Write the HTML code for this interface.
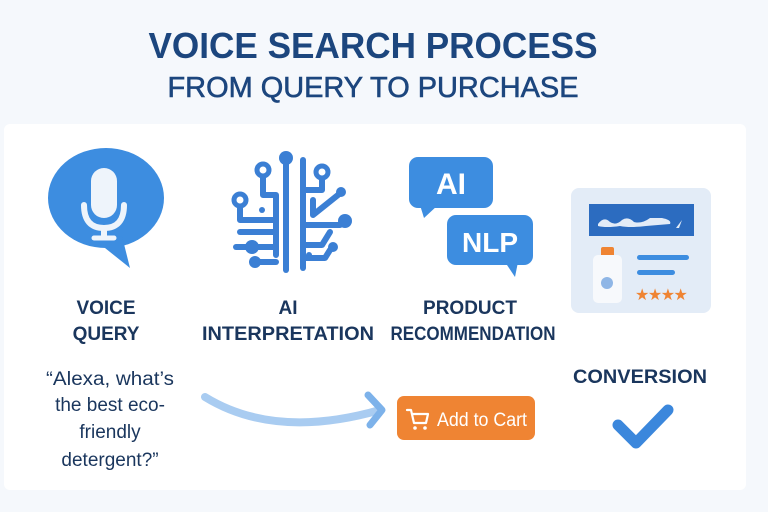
<!DOCTYPE html>
<html><head><meta charset="utf-8"><style>
html,body{margin:0;padding:0;background:#f5f8fc;}
svg{display:block;}
text{font-family:"Liberation Sans",sans-serif;}
</style></head><body>
<svg width="768" height="512" viewBox="0 0 768 512" xmlns="http://www.w3.org/2000/svg">
<rect width="768" height="512" fill="#f5f8fc"/>
<rect x="4" y="124" width="742" height="366" rx="6" fill="#ffffff"/>
<text x="373" y="58" text-anchor="middle" font-size="36" font-weight="bold" fill="#1c467e" textLength="449" lengthAdjust="spacingAndGlyphs">VOICE SEARCH PROCESS</text>
<text x="373" y="97" text-anchor="middle" font-size="29" fill="#1c467e" stroke="#1c467e" stroke-width="0.6" textLength="411" lengthAdjust="spacingAndGlyphs">FROM QUERY TO PURCHASE</text>

<!-- mic bubble -->
<ellipse cx="106" cy="198" rx="58" ry="50" fill="#3d8de0"/>
<path d="M95 240 L130 268 L122 236 Z" fill="#3d8de0"/>
<rect x="91" y="168" width="26" height="50" rx="13" fill="#eef4fb"/>
<path d="M84 205 Q84 228 104 228 Q124 228 124 205" fill="none" stroke="#eef4fb" stroke-width="6" stroke-linecap="round"/>
<line x1="104" y1="228" x2="104" y2="238" stroke="#eef4fb" stroke-width="6"/>
<line x1="94" y1="238" x2="114" y2="238" stroke="#eef4fb" stroke-width="5" stroke-linecap="round"/>

<!-- AI circuit -->
<g stroke="#3b7fd4" stroke-width="6" fill="none" stroke-linecap="round" stroke-linejoin="round">
<path d="M286 162 L286 270"/>
<path d="M303 160 L303 268"/>
<path d="M263 170 L263 195 L276 195 L276 255"/>
<path d="M322 172 L322 190 L303 190"/>
<path d="M240 200 L240 220 L276 220"/>
<path d="M313 200 L313 215 L338 195"/>
<path d="M303 225 L340 225"/>
<path d="M240 232 L276 232"/>
<path d="M236 247 L276 247"/>
<path d="M303 245 L322 245 L330 232"/>
<path d="M258 262 L276 262"/>
<path d="M303 258 L325 258 L330 250"/>
</g>
<g fill="#3b7fd4">
<circle cx="286" cy="158" r="7"/>
<circle cx="263" cy="170" r="6" fill="#fff" stroke="#3b7fd4" stroke-width="5"/>
<circle cx="322" cy="172" r="6" fill="#fff" stroke="#3b7fd4" stroke-width="5"/>
<circle cx="240" cy="200" r="6" fill="#fff" stroke="#3b7fd4" stroke-width="5"/>
<circle cx="341" cy="192" r="5"/>
<circle cx="345" cy="221" r="7"/>
<circle cx="262" cy="210" r="3"/>
<circle cx="252" cy="247" r="7"/>
<circle cx="255" cy="262" r="6"/>
<circle cx="333" cy="247" r="5"/>
<circle cx="309" cy="255" r="3"/>
</g>

<!-- AI / NLP bubbles -->
<rect x="409" y="157" width="84" height="51" rx="9" fill="#3d8de0"/>
<path d="M420 205 L424 218 L438 205 Z" fill="#3d8de0"/>
<text x="451" y="194" text-anchor="middle" font-size="30" font-weight="bold" fill="#fff">AI</text>
<rect x="447" y="215" width="86" height="50" rx="9" fill="#3d8de0"/>
<path d="M505 262 L515 277 L518 262 Z" fill="#3d8de0"/>
<text x="490" y="252" text-anchor="middle" font-size="28" font-weight="bold" fill="#fff">NLP</text>

<!-- product card -->
<rect x="571" y="188" width="140" height="125" rx="8" fill="#e3ecf7"/>
<rect x="589" y="204" width="105" height="32" fill="#2c6cc0"/>
<path d="M598 224 Q604 216 610 222 Q616 226 622 220 Q628 216 634 222 Q642 224 650 218 L662 218 Q672 220 670 224 L646 226 Q630 228 620 226 Q606 228 598 226 Z" fill="#e3ecf7"/>
<path d="M676 228 L682 220 L679 228 Z" fill="#e3ecf7"/>
<rect x="601" y="247" width="13" height="10" rx="2" fill="#ef8433"/>
<rect x="593" y="255" width="29" height="48" rx="5" fill="#f7f9fc"/>
<circle cx="607" cy="283" r="6" fill="#8fb6e6"/>
<rect x="637" y="255" width="52" height="5" rx="2.5" fill="#3d8de0"/>
<rect x="637" y="270" width="38" height="5" rx="2.5" fill="#3d8de0"/>
<text x="635" y="300" font-size="16" fill="#ef8433" letter-spacing="-1.5">★★★★</text>

<!-- labels -->
<g font-size="19" font-weight="bold" fill="#1a365d" text-anchor="middle">
<text x="106" y="314">VOICE</text>
<text x="106" y="340">QUERY</text>
<text x="288" y="314">AI</text>
<text x="288" y="340" textLength="172" lengthAdjust="spacingAndGlyphs">INTERPRETATION</text>
<text x="470" y="314">PRODUCT</text>
<text x="473" y="340" textLength="165" lengthAdjust="spacingAndGlyphs">RECOMMENDATION</text>
<text x="640" y="383" textLength="134" lengthAdjust="spacingAndGlyphs">CONVERSION</text>
</g>
<g font-size="19" fill="#1a365d" text-anchor="middle">
<text x="110" y="385" textLength="128" lengthAdjust="spacingAndGlyphs">“Alexa, what’s</text>
<text x="110" y="411">the best eco-</text>
<text x="110" y="438">friendly</text>
<text x="110" y="466">detergent?”</text>
</g>

<!-- arrow -->
<path d="M205 397 Q275 440 380 410" fill="none" stroke="#a9ccf1" stroke-width="8" stroke-linecap="round"/>
<path d="M368 395 L382 410 L370 425" fill="none" stroke="#7db2ea" stroke-width="7" stroke-linecap="round" stroke-linejoin="round"/>

<!-- button -->
<rect x="397" y="396" width="138" height="44" rx="7" fill="#ef8433"/>
<g stroke="#fff" stroke-width="2.2" fill="none" stroke-linecap="round" stroke-linejoin="round">
<path d="M407 410 L411 410 L414 423 L426 423 L428 414 L412 414"/>
</g>
<circle cx="415" cy="428" r="1.8" fill="#fff"/><circle cx="425" cy="428" r="1.8" fill="#fff"/>
<text x="437" y="426" font-size="19" fill="#fff" textLength="90" lengthAdjust="spacingAndGlyphs">Add to Cart</text>

<!-- check -->
<path d="M618 425 L636 443 L668 410" fill="none" stroke="#3b87dc" stroke-width="11" stroke-linecap="round" stroke-linejoin="round"/>
</svg>
</body></html>
